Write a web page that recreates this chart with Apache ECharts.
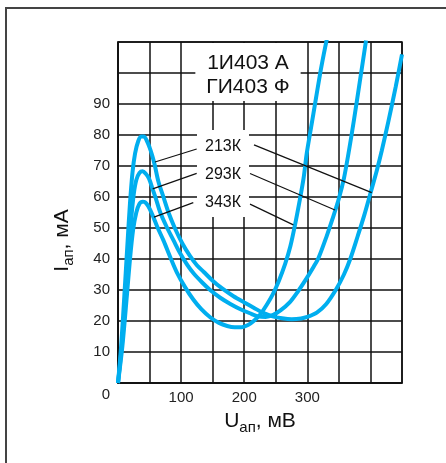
<!DOCTYPE html>
<html>
<head>
<meta charset="utf-8">
<script src="https://cdn.jsdelivr.net/npm/echarts@6/dist/echarts.min.js"></script>
<style>
  html, body { margin: 0; padding: 0; background: #fff; }
  #chart { width: 446px; height: 463px; }
</style>
</head>
<body>
<div id="chart"></div>
<script>
// U, мВ / I, мА
var u213 = [0, 5, 10, 15, 19, 23, 27, 32, 37, 41, 46, 50, 54, 58, 64, 72, 80, 90, 102, 114, 125, 136, 150, 165, 183, 200, 215, 230, 245, 260, 275, 290, 300, 315, 330, 345, 358, 368, 380, 390, 400, 410, 418, 428, 440, 450];
var i213 = [0, 12, 28, 45, 58, 68, 74, 78, 79.5, 79.5, 78, 76, 73.5, 70.5, 65, 60, 55, 50, 45, 41, 38, 35.8, 33, 30.5, 28, 26, 24.3, 22.6, 21.5, 20.9, 20.6, 20.8, 21.3, 22.7, 25.5, 30, 35, 40, 47.5, 54, 61.2, 68.5, 75, 84, 95.5, 106];

var u293 = [0, 6, 12, 17, 21, 25, 29, 34, 39, 44, 49, 55, 60, 67, 77, 88, 98, 110, 120, 133, 146, 162, 178, 194, 209, 222, 234, 246, 258, 272, 285, 298, 310, 318, 330, 340, 350, 358, 366, 374, 383, 393];
var i293 = [0, 12, 28, 42, 53, 61, 65.5, 67.8, 68.3, 67.5, 66, 62.5, 59.5, 55, 50.4, 46, 42, 38, 35.3, 32.5, 30, 27.5, 25.5, 23.8, 22.5, 21.5, 21.3, 22, 23.5, 26, 29.5, 33.5, 37.5, 40.5, 47, 53, 59.5, 66, 75, 85, 97, 110.5];

var u343 = [0, 7, 14, 19, 24, 29, 34, 39, 43, 48, 54, 62, 72, 83, 93, 106, 119, 132, 146, 160, 173, 185, 196, 206, 215, 225, 235, 245, 255, 265, 273, 280, 288, 294, 299, 306, 313, 320, 326, 331];
var i343 = [0, 12, 28, 40, 49.5, 55, 57.8, 58.5, 58.3, 57, 54.5, 50.5, 46, 40.5, 35.8, 31, 27, 23.8, 21.2, 19.4, 18.4, 18, 18, 18.7, 20, 22, 25, 28.5, 33, 38.5, 44, 50.5, 59, 66, 74, 82.5, 91, 99.5, 106, 111];

// leader lines: [start, end] in data coords
var lead213 = [[[58.6, 71.3], [124.7, 75.5]], [[215.5, 76.8], [402, 61.4]]];
var lead293 = [[[55, 62.6], [124.7, 67.6]], [[209.2, 67.6], [343.8, 55.8]]];
var lead343 = [[[57, 53.5], [119.3, 58.2]], [[209.2, 57.7], [277.8, 51]]];

var xLabels = [100, 200, 300];
var yLabels = [10, 20, 30, 40, 50, 60, 70, 80, 90];

var blue = '#00aeef';
var font = '"Liberation Sans", Arial, sans-serif';

function zip(xs, ys) {
  return xs.map(function (x, i) { return [x, ys[i]]; });
}
function leaders(list) {
  return list.map(function (p) { return [{ coord: p[0] }, { coord: p[1] }]; });
}
function curve(name, xs, ys, lead) {
  return {
    name: name,
    type: 'line',
    data: zip(xs, ys),
    smooth: 0.3,
    showSymbol: false,
    lineStyle: { color: blue, width: 4 },
    markLine: {
      silent: true,
      symbol: ['none', 'none'],
      label: { show: false },
      lineStyle: { color: '#111', width: 1.2, type: 'solid' },
      animation: false,
      data: leaders(lead)
    }
  };
}

var nameRich = {
  n: { fontFamily: font, fontSize: 21, color: '#111', verticalAlign: 'top', lineHeight: 24 },
  s: { fontFamily: font, fontSize: 15, color: '#111', verticalAlign: 'top', padding: [9, 0, 0, 0] }
};

var myChart = echarts.init(document.getElementById('chart'));
var option = {
  animation: false,
  backgroundColor: '#fff',
  title: [{
    text: '1И403 А\nГИ403 Ф',
    left: 237,
    top: 43,
    textAlign: 'center',
    padding: [8, 11, 2, 11],
    backgroundColor: '#fff',
    textStyle: { fontFamily: font, fontSize: 21, fontWeight: 'normal', color: '#111', lineHeight: 24 }
  }, {
    text: '213К\n293К\n343К',
    left: 215,
    top: 130,
    textAlign: 'center',
    padding: [3, 8, 0, 8],
    backgroundColor: '#fff',
    textStyle: { fontFamily: font, fontSize: 16, fontWeight: 'normal', color: '#111', lineHeight: 28 }
  }],
  grid: {
    left: 118, top: 42, right: 44, bottom: 80,
    show: true, borderColor: '#111', borderWidth: 1.5
  },
  xAxis: {
    type: 'value',
    min: 0, max: 450, interval: 50,
    name: '{n|U}{s|ап}{n|, мВ}',
    nameLocation: 'middle',
    nameGap: 28,
    nameTextStyle: { rich: nameRich },
    axisLine: { lineStyle: { color: '#111', width: 1.5 } },
    axisTick: { show: false },
    axisLabel: {
      margin: 7,
      fontFamily: font, fontSize: 15, color: '#222',
      formatter: function (v) { return xLabels.indexOf(v) >= 0 ? String(v) : ''; }
    },
    splitLine: { show: true, lineStyle: { color: '#111', width: 1.5 } }
  },
  yAxis: {
    type: 'value',
    min: 0, max: 110, interval: 10,
    name: '{n|I}{s|ап}{n|, мА}',
    nameLocation: 'middle',
    nameRotate: 90,
    nameGap: 42,
    nameTextStyle: { rich: nameRich, padding: [0, 56, 0, 0] },
    axisLine: { lineStyle: { color: '#111', width: 1.5 } },
    axisTick: { show: false },
    axisLabel: {
      margin: 8,
      fontFamily: font, fontSize: 15, color: '#222',
      formatter: function (v) { return yLabels.indexOf(v) >= 0 ? String(v) : ''; }
    },
    splitLine: { show: true, lineStyle: { color: '#111', width: 1.5 } }
  },
  graphic: [{
    type: 'rect',
    shape: { x: 6, y: 8, width: 480, height: 480 },
    style: { fill: 'none', stroke: '#444', lineWidth: 2 },
    silent: true
  }, {
    type: 'text',
    x: 106, y: 395,
    style: { text: '0', fill: '#222', font: '15px ' + font, align: 'center', verticalAlign: 'middle' },
    silent: true
  }],
  series: [
    curve('213К', u213, i213, lead213),
    curve('293К', u293, i293, lead293),
    curve('343К', u343, i343, lead343)
  ]
};
myChart.setOption(option);
</script>
</body>
</html>
